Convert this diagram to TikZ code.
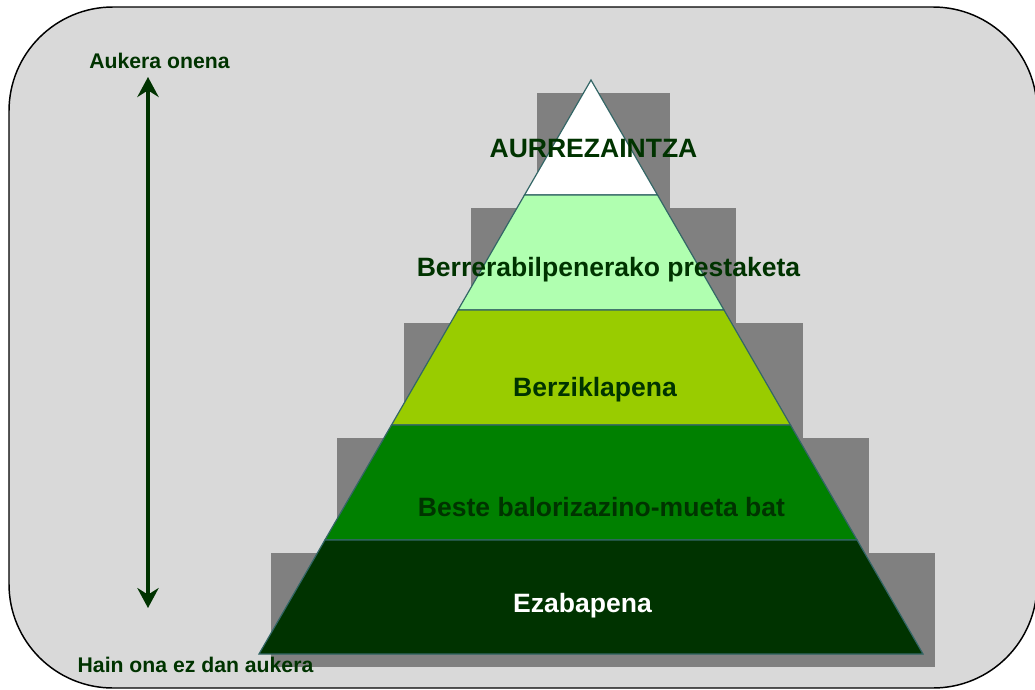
\documentclass[tikz,border=0pt]{standalone}
\usepackage{fontspec}
\setmainfont{Liberation Sans}
\usetikzlibrary{arrows.meta}
\definecolor{bg}{RGB}{217,217,217}
\definecolor{shade}{RGB}{128,128,128}
\definecolor{dgreen}{RGB}{0,51,0}
\definecolor{lgreen}{RGB}{176,255,176}
\definecolor{lime}{RGB}{153,204,0}
\definecolor{mgreen}{RGB}{0,128,0}
\definecolor{edge}{RGB}{51,102,102}
\tikzset{
  band/.style={draw=edge, line width=0.9pt},
  shadowbox/.style={fill=shade, draw=none},
  bigtxt/.style={font=\bfseries\fontsize{19.9}{24}\selectfont, text=dgreen, anchor=base, inner sep=0pt},
  smalltxt/.style={font=\bfseries\fontsize{15.9}{19}\selectfont, text=dgreen, anchor=base, inner sep=0pt},
  scalearrow/.style={draw=dgreen, line width=2.4pt, {Stealth[length=15pt,width=16pt,inset=5pt]}-{Stealth[length=15pt,width=16pt,inset=5pt]}}
}
\begin{document}
\begin{tikzpicture}[x=0.75pt, y=-0.75pt]
\useasboundingbox (0,0) rectangle (1035,689);
% background
\draw[fill=bg, draw=black, line width=1.1pt, rounded corners=78pt] (9,7) rectangle (1037,688);
% shadows
\fill[shadowbox] (536.5,93) rectangle (669.5,208);
\fill[shadowbox] (470.5,208) rectangle (736,323);
\fill[shadowbox] (403.5,323) rectangle (802.5,438);
\fill[shadowbox] (336.9,438) rectangle (869.1,553);
\fill[shadowbox] (271,553) rectangle (935,667);
% pyramid bands
\coordinate (apex) at (591,80);
\draw[band, fill=white] (apex) -- (657.5,195) -- (524.5,195) -- cycle;
\draw[band, fill=lgreen] (524.5,195) -- (657.5,195) -- (724,310) -- (458,310) -- cycle;
\draw[band, fill=lime] (458,310) -- (724,310) -- (790.5,425) -- (391.5,425) -- cycle;
\draw[band, fill=mgreen] (391.5,425) -- (790.5,425) -- (857.1,540) -- (324.9,540) -- cycle;
\draw[band, fill=dgreen] (324.9,540) -- (857.1,540) -- (923,654) -- (259,654) -- cycle;
% labels
\node[bigtxt] (l1) at (593.5,157) {AURREZAINTZA};
\node[bigtxt] (l2) at (608.5,276) {Berrerabilpenerako prestaketa};
\node[bigtxt] (l3) at (595,396) {Berziklapena};
\node[bigtxt] (l4) at (601.5,516) {Beste balorizazino-mueta bat};
\node[bigtxt, text=white] (l5) at (582.5,612) {Ezabapena};
% scale arrow
\node[smalltxt] (best) at (159.5,68) {Aukera onena};
\node[smalltxt] (worst) at (195.5,672) {Hain ona ez dan aukera};
\coordinate (atop) at (148,77);
\coordinate (abot) at (148,608);
\draw[scalearrow] (atop) -- (abot);
\end{tikzpicture}
\end{document}
